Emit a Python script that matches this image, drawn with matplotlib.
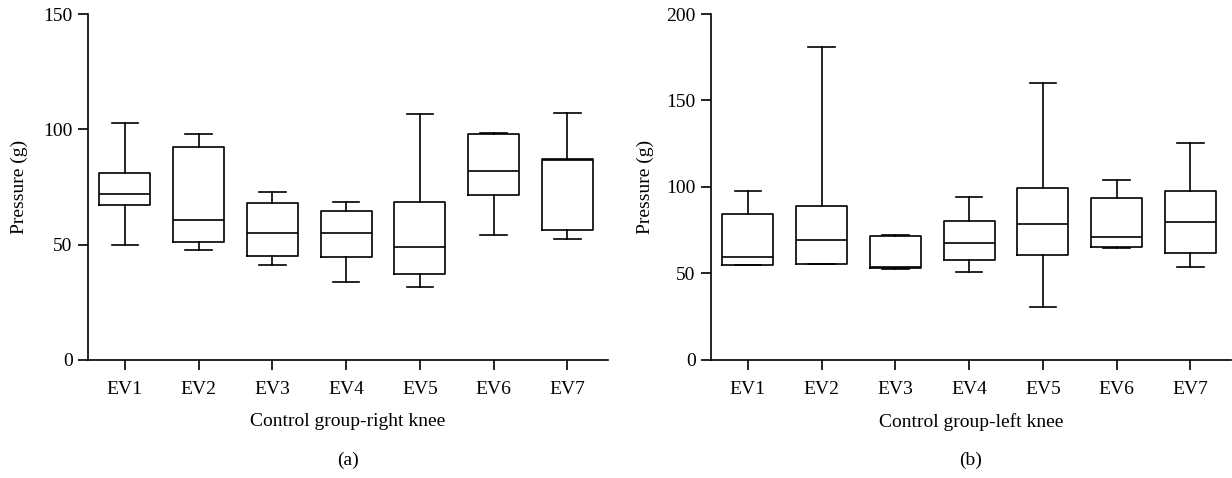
import matplotlib
matplotlib.use("Agg")
import matplotlib.pyplot as plt

plt.rcParams['font.family'] = ['Liberation Serif', 'DejaVu Serif']

labels = ["EV1", "EV2", "EV3", "EV4", "EV5", "EV6", "EV7"]

# right knee (a): whisker low, Q1, median, Q3, whisker high
right_low = [50, 47.5, 41.3, 33.8, 31.6, 54.3, 52.3]
right_q1 = [67.2, 51, 45.2, 44.6, 37.4, 71.7, 56.3]
right_med = [72, 60.7, 54.9, 54.9, 49, 81.8, 86.5]
right_q3 = [81, 92.3, 68.2, 64.6, 68.5, 98.0, 87]
right_high = [102.7, 98, 73, 68.3, 106.8, 98.2, 106.9]

# left knee (b)
left_low = [55, 55.4, 52.7, 50.6, 30.4, 64.8, 53.9]
left_q1 = [54.9, 55.4, 53.3, 57.7, 60.4, 65.4, 61.8]
left_med = [59.5, 69.3, 53.7, 67.7, 78.5, 71.0, 79.7]
left_q3 = [84.1, 89.1, 71.6, 80.4, 99.7, 93.5, 97.4]
left_high = [97.4, 181.1, 72.4, 94.1, 160.1, 103.9, 125.7]


def make_stats(low, q1, med, q3, high):
    stats = []
    for i in range(len(labels)):
        stats.append({"label": labels[i], "whislo": low[i], "q1": q1[i],
                      "med": med[i], "q3": q3[i], "whishi": high[i], "fliers": []})
    return stats


def draw_panel(ax, stats, ymax, step, xlabel, tag, label_x):
    lp = dict(color="black", linewidth=1.2)
    ax.bxp(stats, widths=0.69, capwidths=0.36, showfliers=False,
           boxprops=lp, medianprops=lp, whiskerprops=lp, capprops=lp)
    ax.set_xlim(0.5, 7.55)
    ax.set_ylim(0, ymax)
    ax.set_yticks(range(0, ymax + 1, step))
    for s in ["top", "right"]:
        ax.spines[s].set_visible(False)
    for s in ["left", "bottom"]:
        ax.spines[s].set_linewidth(1.2)
    ax.tick_params(direction="out", length=7, width=1.2, labelsize=14)
    ax.tick_params(axis="x", pad=8)
    ax.tick_params(axis="y", pad=4)
    ax.set_xlabel(xlabel, fontsize=14, labelpad=11)
    ax.set_ylabel("Pressure (g)", fontsize=14)
    ax.yaxis.set_label_coords(label_x, 0.5)
    pos = ax.get_position()
    fig.text(pos.x0 + pos.width / 2, 0.036, tag, ha="center", va="center", fontsize=14)


fig = plt.figure(figsize=(12.32, 4.78), dpi=100)
ax1 = fig.add_axes([0.0714, 0.2469, 0.422, 0.7238])
ax2 = fig.add_axes([0.5771, 0.2469, 0.422, 0.7238])

draw_panel(ax1, make_stats(right_low, right_q1, right_med, right_q3, right_high),
           150, 50, "Control group-right knee", "(a)", -0.115)
draw_panel(ax2, make_stats(left_low, left_q1, left_med, left_q3, left_high),
           200, 50, "Control group-left knee", "(b)", -0.11)

fig.savefig("out.png", dpi=100)
